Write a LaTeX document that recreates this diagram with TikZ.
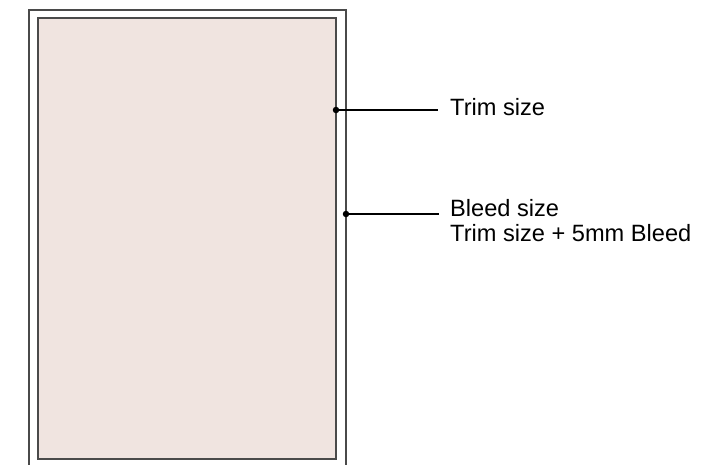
\documentclass[tikz,border=0pt]{standalone}
\usepackage{fontspec}
\setmainfont{Liberation Sans}
\definecolor{paper}{HTML}{F0E4E0}
\definecolor{edge}{HTML}{4A4A4A}
\begin{document}
\begin{tikzpicture}[x=1pt,y=-1pt,
  sheet/.style={draw=edge,line width=1.2pt},
  dotmark/.style={circle,fill=black,inner sep=0pt,minimum size=6.5pt},
  lbl/.style={anchor=base west,inner sep=0pt,font=\fontsize{23.6}{26}\selectfont},
  leader/.style={draw=black,line width=1.4pt}]
\useasboundingbox (0,0) rectangle (722,464);
% outer bleed sheet (runs past bottom)
\draw[sheet] (29,470) -- (29,10) -- (346,10) -- (346,470);
% inner trim sheet
\draw[sheet,fill=paper] (38,18) rectangle (336,459);
\node[dotmark] (trimdot) at (336,110) {};
\node[dotmark] (bleeddot) at (346,214) {};
\coordinate (trimend) at (438,110);
\coordinate (bleedend) at (439,214);
\node[lbl] (trimlabel) at (450,115.5) {Trim size};
\node[lbl] (bleedlabel) at (450,216.5) {Bleed size};
\node[lbl] (bleednote) at (450,241.5) {Trim size + 5mm Bleed};
\draw[leader] (trimdot.center) -- (trimend);
\draw[leader] (bleeddot.center) -- (bleedend);
\end{tikzpicture}
\end{document}
